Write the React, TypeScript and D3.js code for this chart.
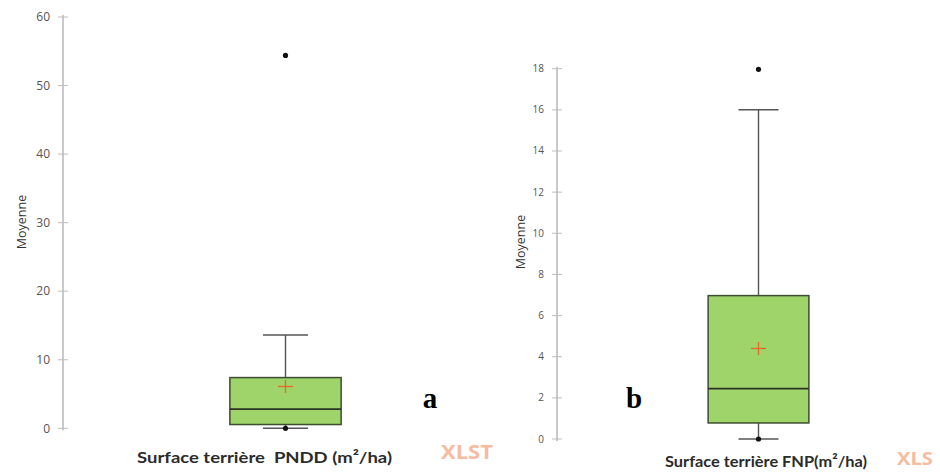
import React from "react";
import * as d3 from "d3";

// Box plot summaries for the two stand types
const categories = ["Surface terrière  PNDD (m²/ha)", "Surface terrière FNP(m²/ha)"];
const panelTags = ["a", "b"];
const minValues = [0, 0];
const q1Values = [0.55, 0.78];
const medianValues = [2.8, 2.45];
const q3Values = [7.4, 6.97];
const whiskerHighValues = [13.6, 16.0];
const meanValues = [6.1, 4.4];
const maxValues = [54.4, 17.97];
const yTicksA = [0, 10, 20, 30, 40, 50, 60];
const yTicksB = [0, 2, 4, 6, 8, 10, 12, 14, 16, 18];
const yTitle = "Moyenne";
const watermarks = ["XLST", "XLS"];

const W = 940;
const H = 472;

type Panel = {
  axisX: number;
  xEnd: number;
  yTop: number;
  yBottom: number;
  ticks: number[];
  tickFont: number;
  titleX: number;
  titleY: number;
  labelX: number;
  labelY: number;
  labelWidth: number;
  tagX: number;
  capHalf: number;
  wmX: number;
  wmY: number;
  wmWidth: number;
  wmSize: number;
};

const panels: Panel[] = [
  { axisX: 63, xEnd: 508, yTop: 17, yBottom: 428.3, ticks: yTicksA, tickFont: 12, titleX: 22, titleY: 222, labelX: 264.5, labelY: 463, labelWidth: 255, tagX: 430, capHalf: 22.5, wmX: 441, wmY: 459, wmWidth: 52, wmSize: 20 },
  { axisX: 557, xEnd: 960, yTop: 68.7, yBottom: 439, ticks: yTicksB, tickFont: 10, titleX: 521, titleY: 242, labelX: 766, labelY: 467, labelWidth: 202, tagX: 634, capHalf: 20, wmX: 897, wmY: 465, wmWidth: 36, wmSize: 18 },
];

function BoxPanel({ i, p }: { i: number; p: Panel }) {
  const y = d3
    .scaleLinear()
    .domain([0, d3.max(p.ticks) as number])
    .range([p.yBottom, p.yTop]);
  const x = d3
    .scaleBand<string>()
    .domain([categories[i]])
    .range([p.axisX, p.xEnd])
    .padding(0.6);
  const bx = x(categories[i]) as number;
  const bw = x.bandwidth();
  const cx = bx + bw / 2;
  return (
    <g>
      {/* watermark */}
      <text
        x={p.wmX}
        y={p.wmY}
        fontSize={p.wmSize}
        fontWeight={700}
        fill="#f6b596"
        fontFamily="Open Sans, sans-serif"
        textLength={p.wmWidth}
        lengthAdjust="spacingAndGlyphs"
        opacity={0.9}
      >
        {watermarks[i]}
      </text>

      {/* axis */}
      <line x1={p.axisX} x2={p.axisX} y1={p.yTop - 2} y2={p.yBottom + 2} stroke="#c9c9c9" strokeWidth={2} />
      {p.ticks.map((t) => (
        <g key={t}>
          <line x1={p.axisX - 5} x2={p.axisX + 5} y1={y(t)} y2={y(t)} stroke="#bdbdbd" strokeWidth={1} />
          <text
            x={p.axisX - 13}
            y={y(t)}
            dy="0.35em"
            textAnchor="end"
            fontSize={p.tickFont}
            fill="#555"
            fontFamily="Open Sans, sans-serif"
          >
            {t}
          </text>
        </g>
      ))}
      <text
        transform={`translate(${p.titleX},${p.titleY}) rotate(-90)`}
        textAnchor="middle"
        dy="0.35em"
        fontSize={12.5}
        fill="#333"
        fontFamily="Open Sans, sans-serif"
      >
        {yTitle}
      </text>

      {/* whiskers */}
      <line x1={cx} x2={cx} y1={y(whiskerHighValues[i])} y2={y(q3Values[i])} stroke="#555" strokeWidth={1.4} />
      <line x1={cx} x2={cx} y1={y(q1Values[i])} y2={y(minValues[i])} stroke="#555" strokeWidth={1.4} />
      <line x1={cx - p.capHalf} x2={cx + p.capHalf} y1={y(whiskerHighValues[i])} y2={y(whiskerHighValues[i])} stroke="#555" strokeWidth={1.5} />
      <line x1={cx - p.capHalf} x2={cx + p.capHalf} y1={y(minValues[i])} y2={y(minValues[i])} stroke="#555" strokeWidth={1.5} />

      {/* box */}
      <rect
        x={bx}
        y={y(q3Values[i])}
        width={bw}
        height={y(q1Values[i]) - y(q3Values[i])}
        fill="#9ed46a"
        stroke="#3d4d30"
        strokeWidth={1.5}
      />
      <line x1={bx} x2={bx + bw} y1={y(medianValues[i])} y2={y(medianValues[i])} stroke="#2c3324" strokeWidth={1.6} />

      {/* mean marker */}
      <line x1={cx - 7.5} x2={cx + 7.5} y1={y(meanValues[i])} y2={y(meanValues[i])} stroke="#e8662a" strokeWidth={1.3} />
      <line x1={cx} x2={cx} y1={y(meanValues[i]) - 6.5} y2={y(meanValues[i]) + 6.5} stroke="#e8662a" strokeWidth={1.3} />

      {/* minimum and maximum points */}
      <circle cx={cx} cy={y(maxValues[i])} r={2.6} fill="#111" />
      <circle cx={cx} cy={y(minValues[i])} r={2.6} fill="#111" />

      {/* category label */}
      <text
        x={p.labelX}
        y={p.labelY}
        textAnchor="middle"
        fontSize={16}
        fontWeight={700}
        fill="#2b2b2b"
        fontFamily="Lato, Open Sans, sans-serif"
        textLength={p.labelWidth}
        lengthAdjust="spacingAndGlyphs"
        style={{ whiteSpace: "pre" }}
      >
        {categories[i]}
      </text>

      {/* panel tag */}
      <text
        x={p.tagX}
        y={408}
        textAnchor="middle"
        fontSize={29}
        fontWeight={700}
        fill="#000"
        fontFamily="Liberation Serif, Times New Roman, serif"
      >
        {panelTags[i]}
      </text>
    </g>
  );
}

export default function App() {
  return (
    <svg
      width={W}
      height={H}
      viewBox={`0 0 ${W} ${H}`}
      style={{ position: "absolute", left: 0, top: 0, background: "#fff" }}
    >
      <rect x={0} y={0} width={W} height={H} fill="#fff" />
      {panels.map((p, i) => (
        <BoxPanel key={i} i={i} p={p} />
      ))}
    </svg>
  );
}
